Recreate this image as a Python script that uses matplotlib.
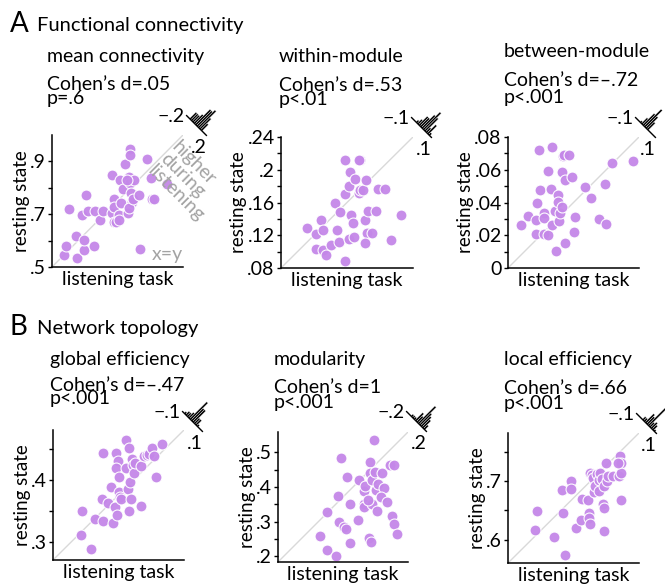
import numpy as np
import matplotlib
matplotlib.use("Agg")
import matplotlib.pyplot as plt
from matplotlib.patches import Polygon
from matplotlib.transforms import ScaledTranslation

plt.rcParams['font.family'] = ['Lato', 'DejaVu Sans']

# ---- data ----
# A: functional connectivity
mean_conn_x = [.545, .553, .563, .593, .595, .621, .623, .631, .614, .636, .662, .665, .682, .694,
               .729, .729, .735, .738, .738, .754, .758, .763, .771, .780, .789, .796, .799, .793,
               .799, .801, .805, .812, .793, .809, .831, .835, .863, .878, .882, .891, .939, .786,
               .745, .754]
mean_conn_y = [.544, .580, .719, .618, .535, .563, .601, .772, .696, .713, .580, .713, .677, .713,
               .848, .703, .671, .759, .728, .696, .829, .741, .794, .892, .703, .946, .924, .842,
               .819, .781, .747, .829, .722, .756, .772, .570, .908, .839, .759, .759, .816, .829,
               .671, .677]

within_x = [.112, .123, .123, .129, .131, .131, .135, .140, .145, .148, .150, .151, .158, .176,
            .158, .158, .162, .164, .163, .165, .167, .168, .170, .175, .176, .179, .182, .183,
            .184, .186, .190, .182, .195, .198, .206, .213, .226, .175]
within_y = [.129, .121, .103, .139, .127, .102, .096, .108, .160, .127, .112, .148, .212, .212,
            .089, .170, .115, .197, .180, .145, .135, .118, .189, .171, .175, .175, .139, .187,
            .123, .150, .123, .111, .150, .177, .176, .114, .145, .212]

between_x = [.0077, .0122, .0172, .0172, .0192, .0198, .0176, .0217, .0217, .0217, .0245, .0245,
             .0267, .0263, .0267, .0290, .0294, .0306, .0304, .0314, .0318, .0330, .0330, .0334,
             .0344, .0350, .0350, .0375, .0391, .0401, .0411, .0470, .0506, .0553, .0597, .0593,
             .0634, .0763]
between_y = [.0263, .0318, .0294, .0207, .0723, .0476, .0395, .0334, .0304, .0207, .0203, .0593,
             .0739, .0480, .0263, .0350, .0101, .0446, .0405, .0284, .0338, .0375, .0587, .0682,
             .0693, .0537, .0152, .0693, .0553, .0217, .0310, .0496, .0425, .0300, .0269, .0516,
             .0644, .0652]

# B: network topology
glob_x = [.315, .316, .332, .338, .349, .350, .351, .359, .364, .367, .370, .373, .372, .374,
          .372, .377, .377, .378, .379, .387, .388, .390, .392, .393, .394, .395, .397, .399,
          .401, .402, .411, .412, .417, .421, .424, .429, .433, .436, .445]
glob_y = [.311, .350, .288, .337, .369, .334, .444, .362, .388, .330, .356, .343, .444, .430,
          .419, .405, .381, .373, .369, .465, .419, .386, .451, .350, .397, .369, .434, .424,
          .411, .427, .422, .357, .438, .441, .442, .451, .438, .405, .458]

modul_x = [.304, .325, .326, .350, .357, .359, .365, .373, .379, .383, .390, .392, .413, .417,
           .431, .431, .430, .435, .445, .450, .450, .452, .454, .455, .459, .463, .467, .469,
           .472, .484, .488, .481, .498, .505, .517, .513, .517, .526, .443]
modul_y = [.260, .219, .329, .200, .374, .299, .482, .284, .278, .428, .351, .238, .305, .419,
           .388, .350, .342, .404, .254, .471, .441, .241, .350, .419, .536, .443, .390, .332,
           .409, .440, .397, .371, .356, .462, .462, .315, .292, .265, .361]

local_x = [.606, .609, .638, .654, .656, .652, .666, .666, .676, .683, .686, .696, .697, .697,
           .699, .699, .702, .704, .706, .708, .711, .714, .715, .716, .720, .722, .721, .722,
           .722, .726, .727, .729, .738, .748, .749, .752, .752, .752, .746]
local_y = [.616, .649, .605, .645, .573, .684, .700, .686, .620, .634, .669, .668, .645, .637,
           .627, .714, .710, .705, .682, .691, .712, .701, .683, .713, .703, .692, .661, .654,
           .614, .730, .700, .708, .708, .709, .743, .730, .713, .668, .730]

titles = ["mean connectivity", "within-module", "between-module",
          "global efficiency", "modularity", "local efficiency"]
stats_d = ["Cohen\u2019s d=.05", "Cohen\u2019s d=.53", "Cohen\u2019s d=\u2013.72",
           "Cohen\u2019s d=\u2013.47", "Cohen\u2019s d=1", "Cohen\u2019s d=.66"]
stats_p = ["p=.6", "p<.01", "p<.001", "p<.001", "p<.001", "p<.001"]
hist_lim = [.2, .1, .1, .1, .2, .1]
hist_lab = [".2", ".1", ".1", ".1", ".2", ".1"]
lims = [(.5, 1.0), (.08, .24), (0, .08), (.27, .481), (.184, .558), (.56, .782)]
yticks = [[.5, .6, .7, .8, .9],
          [.08, .10, .12, .14, .16, .18, .20, .22, .24],
          [0, .01, .02, .03, .04, .05, .06, .07, .08],
          [.3, .35, .4, .45],
          [.2, .25, .3, .35, .4, .45, .5],
          [.6, .65, .7, .75]]
ytick_labels = [[".5", "", ".7", "", ".9"],
                [".08", "", ".12", "", ".16", "", ".2", "", ".24"],
                ["0", "", ".02", "", ".04", "", ".06", "", ".08"],
                [".3", "", ".4", ""],
                [".2", "", ".3", "", ".4", "", ".5"],
                [".6", "", ".7", ""]]
xs = [mean_conn_x, within_x, between_x, glob_x, modul_x, local_x]
ys = [mean_conn_y, within_y, between_y, glob_y, modul_y, local_y]

# axes boxes in pixels: left, top, right, bottom
W, H = 665, 588
boxes = [(52, 135, 183, 267), (281, 137, 413, 268), (508, 137, 639, 268),
         (53, 430, 184, 560), (278, 432, 408, 562), (508, 433, 639, 563)]
# title / stat text positions (x, title baseline, d baseline, p baseline)
text_pos = [(47, 62, 90, 104), (279, 62, 91, 105), (504, 57, 86, 103),
            (50, 365, 391, 404), (274, 365, 393, 408), (504, 365, 394, 409)]
# small shift of the histogram glyph, pixels (right, up)
hist_shift = [(5, 0), (0, 0), (-2, 0), (0, -1), (0, 1), (-1, 0)]

dot_color = "#c487e8"
fs = 14

fig = plt.figure(figsize=(W / 100, H / 100), dpi=100)

fig.text(10 / W, 1 - 32 / H, "A", fontsize=20)
fig.text(37 / W, 1 - 31 / H, "Functional connectivity", fontsize=14.5)
fig.text(10 / W, 1 - 335 / H, "B", fontsize=20)
fig.text(37 / W, 1 - 334 / H, "Network topology", fontsize=14.5)


def draw_hist(ax, diffs, lim, lab, shift):
    # small rotated histogram of listening - resting, sitting past the x=y corner
    half = 0.14
    hmax = 0.24
    c0 = np.array([0.085 + shift[0] / 100, 0.095 + shift[1] / 100])
    u_dir = np.array([1, -1]) / np.sqrt(2)
    v_dir = np.array([1, 1]) / np.sqrt(2)
    trans = fig.dpi_scale_trans + ScaledTranslation(1, 1, ax.transAxes)
    counts, edges = np.histogram(diffs, bins=12, range=(-lim, lim))
    counts = counts / counts.max()
    for c, e0, e1 in zip(counts, edges[:-1], edges[1:]):
        if c == 0:
            continue
        u0, u1 = e0 / lim * half * 0.85, e1 / lim * half * 0.85
        v = c * hmax
        pts = [c0 + u0 * u_dir, c0 + u1 * u_dir, c0 + u1 * u_dir + v * v_dir, c0 + u0 * u_dir + v * v_dir]
        fig.add_artist(Polygon(pts, closed=True, facecolor="black", edgecolor="white",
                               lw=0.25, transform=trans))
    a = c0 - half * u_dir
    b = c0 + half * u_dir
    fig.add_artist(plt.Line2D([a[0], b[0]], [a[1], b[1]], color="black", lw=1.0, transform=trans))
    fig.text(a[0] - 0.02, a[1] - 0.01, "\u2212" + lab, ha="right", va="center", fontsize=fs,
             transform=trans)
    fig.text(b[0] - 0.08, b[1] - 0.04, lab, ha="center", va="top", fontsize=fs, transform=trans)


for i in range(6):
    l, t, r, b = boxes[i]
    ax = fig.add_axes([l / W, 1 - b / H, (r - l) / W, (b - t) / H])
    lo, hi = lims[i]
    ax.plot([lo, hi], [lo, hi], color="#d9d9d9", lw=1, zorder=1)
    ax.scatter(xs[i], ys[i], s=62, color=dot_color, edgecolors="white", linewidths=0.8,
               alpha=0.95, zorder=2)
    ax.set_xlim(lo, hi)
    ax.set_ylim(lo, hi)
    ax.set_xticks([])
    ax.set_yticks(yticks[i])
    ax.set_yticklabels(ytick_labels[i], fontsize=fs)
    ax.tick_params(axis="y", direction="out", length=3, width=1, pad=1.5)
    for s in ["top", "right"]:
        ax.spines[s].set_visible(False)
    for s in ["left", "bottom"]:
        ax.spines[s].set_linewidth(1.1)
    ax.set_ylabel("resting state", fontsize=13.5, labelpad=0)
    ax.set_xlabel("listening task", fontsize=fs, labelpad=3)

    tx, ty, dy, py = text_pos[i]
    fig.text(tx / W, 1 - ty / H, titles[i], fontsize=fs)
    fig.text(tx / W, 1 - dy / H, stats_d[i], fontsize=fs)
    fig.text(tx / W, 1 - py / H, stats_p[i], fontsize=fs)

    diffs = np.array(xs[i]) - np.array(ys[i])
    draw_hist(ax, diffs, hist_lim[i], hist_lab[i], hist_shift[i])

    if i == 0:
        ax.text(0.985, 0.975, "higher\nduring\nlistening", rotation=-45, rotation_mode="anchor",
                ha="left", va="top", multialignment="left", color="#a3a3a3", fontsize=fs,
                linespacing=1.0, transform=ax.transAxes, clip_on=False)
        ax.text(1.0, 0.03, "x=y", ha="right", va="bottom", color="#a3a3a3", fontsize=fs,
                transform=ax.transAxes)

fig.savefig("out.png", dpi=100)
